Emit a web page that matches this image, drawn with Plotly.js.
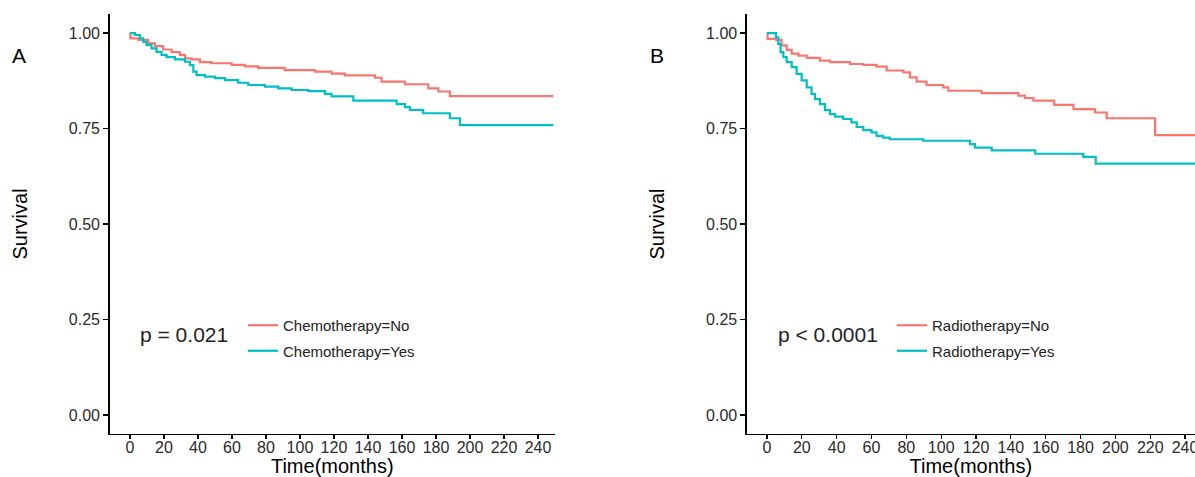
<!DOCTYPE html>
<html>
<head>
<meta charset="utf-8">
<script src="https://cdn.plot.ly/plotly-3.0.1.min.js"></script>
<style>html,body{margin:0;padding:0;background:#fff;}#chart{width:1195px;height:477px;}</style>
</head>
<body>
<div id="chart"></div>
<script>
// Panel A: Chemotherapy
const chemoNoTime = [0, 0.3, 4.9, 10.8, 14.7, 19.6, 24.5, 29.4, 32.4, 36.3, 41.2, 48, 59.8, 67.6, 75.5, 91, 108.8, 118.6, 126.5, 144.1, 148, 161.8, 175.5, 181.4, 188.2, 249];
const chemoNoSurv = [1.0, 0.986, 0.982, 0.973, 0.966, 0.957, 0.950, 0.943, 0.934, 0.931, 0.924, 0.921, 0.917, 0.913, 0.909, 0.903, 0.899, 0.894, 0.889, 0.883, 0.873, 0.866, 0.855, 0.847, 0.835, 0.835];
const chemoYesTime = [0, 2.9, 5.9, 7.8, 9.8, 12.7, 15.7, 18.6, 21.6, 26.5, 32.4, 35.3, 37.3, 39.2, 44.1, 50, 55.9, 63.7, 69.6, 79.4, 87.3, 95.1, 104.9, 114.7, 118.6, 131.4, 156.9, 161.8, 164.7, 172.5, 188.2, 194.1, 249];
const chemoYesSurv = [1.0, 0.995, 0.986, 0.977, 0.969, 0.960, 0.951, 0.943, 0.937, 0.931, 0.925, 0.916, 0.899, 0.890, 0.886, 0.882, 0.877, 0.870, 0.864, 0.860, 0.855, 0.851, 0.848, 0.841, 0.834, 0.823, 0.814, 0.806, 0.799, 0.790, 0.777, 0.759, 0.759];

// Panel B: Radiotherapy
const radioNoTime = [0, 0.3, 5.3, 8.4, 11.3, 14.2, 18, 22.8, 30.4, 36.2, 47.6, 55.3, 62.9, 68.7, 78.3, 82.1, 85.9, 91.6, 101.2, 104.1, 123.2, 144.3, 148.1, 152.9, 164.9, 175.9, 188.3, 195, 222.8, 246];
const radioNoSurv = [1.0, 0.985, 0.982, 0.968, 0.956, 0.946, 0.941, 0.935, 0.928, 0.924, 0.919, 0.917, 0.912, 0.902, 0.897, 0.884, 0.873, 0.864, 0.858, 0.849, 0.843, 0.836, 0.830, 0.823, 0.812, 0.801, 0.792, 0.777, 0.733, 0.733];
const radioYesTime = [0, 5.2, 6.5, 7.8, 9.4, 11.3, 14.2, 17, 19.9, 22.8, 25.6, 27.6, 30.4, 33.3, 36.2, 39.1, 43.8, 48.5, 51.5, 55.3, 60, 62.9, 66.7, 70.5, 89.7, 116.5, 119.4, 129, 154, 181.6, 188.7, 246];
const radioYesSurv = [1.0, 0.989, 0.972, 0.950, 0.937, 0.924, 0.911, 0.893, 0.876, 0.858, 0.840, 0.827, 0.814, 0.798, 0.788, 0.781, 0.775, 0.766, 0.754, 0.746, 0.740, 0.731, 0.726, 0.722, 0.718, 0.709, 0.700, 0.693, 0.684, 0.676, 0.658, 0.658];

const seriesNames = ["Chemotherapy=No", "Chemotherapy=Yes", "Radiotherapy=No", "Radiotherapy=Yes"];
const panelLabels = ["A", "B"];
const pValues = ["p = 0.021", "p < 0.0001"];
const xTicks = [0, 20, 40, 60, 80, 100, 120, 140, 160, 180, 200, 220, 240];
const yTicks = [0, 0.25, 0.5, 0.75, 1.0];

const RED = "#F8766D", TEAL = "#00BFC4";
const FONT = "Liberation Sans, Arial, Helvetica, sans-serif";
const W = 1195, H = 477;

function trace(x, y, name, color, xa, ya, legend, grp) {
  return {x: x, y: y, name: name, type: "scatter", mode: "lines",
    line: {shape: "hv", color: color, width: 2.2},
    xaxis: xa, yaxis: ya, legend: legend, legendgroup: grp, hoverinfo: "skip"};
}

const data = [
  trace(chemoNoTime, chemoNoSurv, seriesNames[0], RED, "x", "y", "legend", "a1"),
  trace(chemoYesTime, chemoYesSurv, seriesNames[1], TEAL, "x", "y", "legend", "a2"),
  trace(radioNoTime, radioNoSurv, seriesNames[2], RED, "x2", "y2", "legend2", "b1"),
  trace(radioYesTime, radioYesSurv, seriesNames[3], TEAL, "x2", "y2", "legend2", "b2")
];

function xaxis(domain, range, anchor) {
  return {domain: domain, range: range, anchor: anchor,
    tickmode: "array", tickvals: xTicks, ticktext: xTicks.map(String),
    showline: true, linecolor: "#000", linewidth: 1.3, ticks: "outside", ticklen: 4, tickwidth: 1.2, tickcolor: "#000",
    ticklabelstandoff: -6, ticklabeloverflow: "allow",
    showgrid: false, zeroline: false, tickfont: {family: FONT, size: 16, color: "#2a2a2a"},
    title: {text: "Time(months)", font: {family: FONT, size: 20, color: "#000"}, standoff: 0}};
}
function yaxis(domain, anchor) {
  return {domain: domain, range: [-0.05, 1.05], anchor: anchor,
    tickmode: "array", tickvals: yTicks, ticktext: yTicks.map(v => v.toFixed(2)),
    showline: true, linecolor: "#000", linewidth: 1.3, ticks: "outside", ticklen: 5, tickwidth: 1.2, tickcolor: "#000",
    showgrid: false, zeroline: false, tickfont: {family: FONT, size: 16, color: "#2a2a2a"},
    title: {text: "Survival", font: {family: FONT, size: 20, color: "#000"}, standoff: 36}};
}

const yDom = [(H - 434) / H, (H - 14) / H];
const legendCommon = {bgcolor: "rgba(0,0,0,0)", font: {family: FONT, size: 15, color: "#222"},
  xanchor: "left", yanchor: "top", tracegroupgap: 3, traceorder: "grouped"};

const layout = {
  width: W, height: H,
  margin: {l: 0, r: 0, t: 0, b: 0},
  paper_bgcolor: "#fff", plot_bgcolor: "#fff",
  showlegend: true,
  xaxis: xaxis([109.5 / W, 555 / W], [-12, 250], "y"),
  yaxis: yaxis(yDom, "x"),
  xaxis2: xaxis([746.7 / W, 1], [-11.65, 245.7], "y2"),
  yaxis2: yaxis(yDom, "x2"),
  legend: Object.assign({x: 243 / W, y: (H - 309) / H}, legendCommon),
  legend2: Object.assign({x: 892 / W, y: (H - 309) / H}, legendCommon),
  annotations: [
    {text: panelLabels[0], xref: "paper", yref: "paper", x: 19 / W, y: (H - 55) / H, showarrow: false,
     xanchor: "center", yanchor: "middle", font: {family: FONT, size: 21, color: "#000"}},
    {text: panelLabels[1], xref: "paper", yref: "paper", x: 657 / W, y: (H - 55) / H, showarrow: false,
     xanchor: "center", yanchor: "middle", font: {family: FONT, size: 21, color: "#000"}},
    {text: pValues[0], xref: "x", yref: "y", x: 4.7, y: 0.21, showarrow: false,
     xanchor: "left", yanchor: "middle", font: {family: FONT, size: 21, color: "#222"}},
    {text: pValues[1], xref: "x2", yref: "y2", x: 5.2, y: 0.21, showarrow: false,
     xanchor: "left", yanchor: "middle", font: {family: FONT, size: 21, color: "#222"}}
  ]
};

Plotly.newPlot("chart", data, layout, {displayModeBar: false, staticPlot: true});
</script>
</body>
</html>
